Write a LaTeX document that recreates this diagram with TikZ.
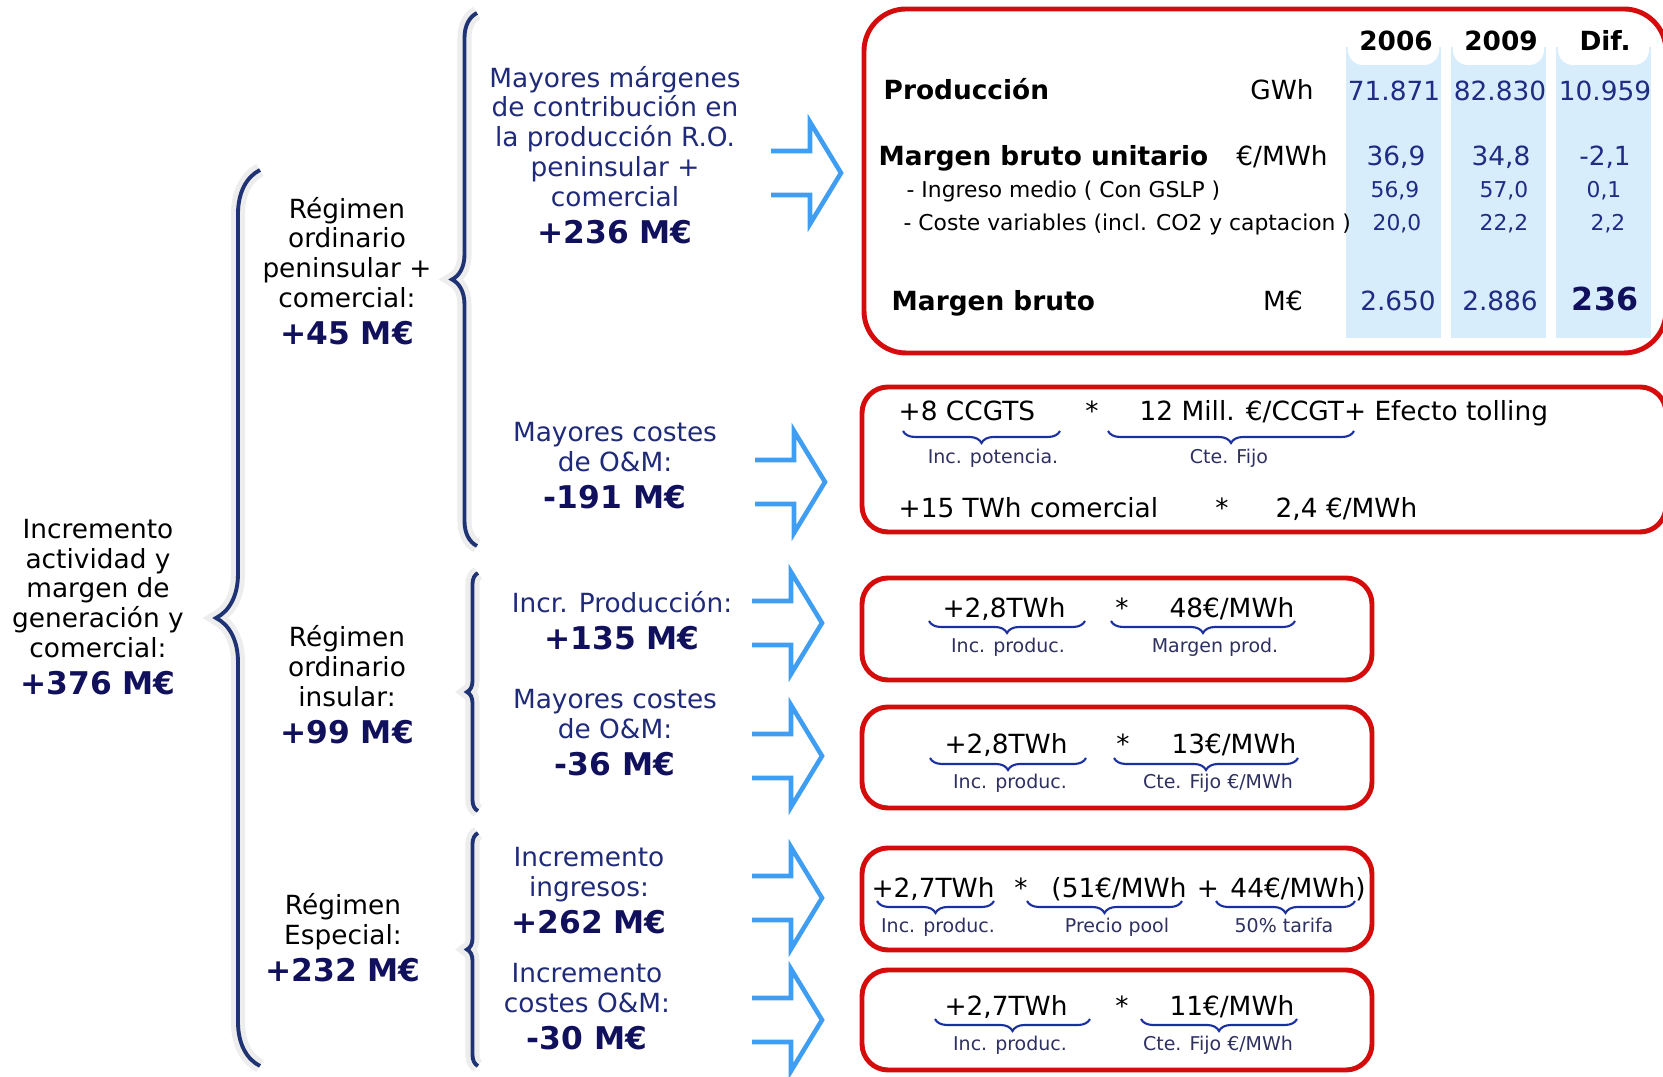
\documentclass[tikz,border=0pt]{standalone}
\usepackage{fontspec}
\setmainfont{DejaVu Sans}
\usetikzlibrary{decorations.pathreplacing, positioning}

\definecolor{navytxt}{HTML}{1F2A78}
\definecolor{navyval}{HTML}{10105C}
\definecolor{tabnum}{HTML}{1E2C84}
\definecolor{labtxt}{HTML}{2E3060}
\definecolor{bracecol}{HTML}{1F3374}
\definecolor{smallbr}{HTML}{1A30A0}
\definecolor{arrowblue}{HTML}{3F9EF2}
\definecolor{boxred}{HTML}{D40C0C}
\definecolor{colblue}{HTML}{D8EDFB}

\newcommand\txtsize{\fontsize{7.5}{8.5}\selectfont}
\newcommand\rowsize{\fontsize{6.2}{7}\selectfont}
\newcommand\labsize{\fontsize{5.4}{6}\selectfont}
\newcommand\mvalue[1]{{\fontsize{8.9}{9.7}\selectfont\bfseries\color{navyval}#1}}

\begin{document}
\begin{tikzpicture}[x=0.01cm, y=-0.01cm,
    every node/.style={inner sep=0pt},
    lvltext/.style={align=center, font=\txtsize, text=black},
    lvlblue/.style={align=center, font=\txtsize, text=navytxt},
    tabrow/.style={font=\txtsize, text=black, anchor=base west},
    tabunit/.style={font=\txtsize, text=black, anchor=base},
    tabnum/.style={font=\txtsize, text=tabnum, anchor=base},
    subrow/.style={font=\rowsize, text=black, anchor=base west},
    subnum/.style={font=\rowsize, text=tabnum, anchor=base},
    formula/.style={font=\txtsize, text=black, anchor=base},
    brlabel/.style={font=\labsize, text=labtxt, anchor=base},
    redbox/.style={draw=boxred, line width=1.4pt, rounded corners=0.26cm},
    openarrow/.style={draw=arrowblue, line width=1.3pt},
    bigbrace/.style={draw=bracecol, line width=1.1pt, decorate},
    brshadow/.style={draw=black, opacity=0.07, line width=4pt, decorate, xshift=-0.05cm},
    smallbrace/.style={draw=smallbr, line width=0.6pt, decorate,
        decoration={brace, amplitude=0.12cm}}]
\useasboundingbox (0,0) rectangle (1663,1077);
\clip (0,0) rectangle (1663,1077);

% braces
\coordinate (tb) at (260,1066);
\coordinate (tt) at (260,170);
\coordinate (pb) at (477,546);
\coordinate (pt) at (477,13);
\coordinate (ib) at (478,811);
\coordinate (it) at (478,573);
\coordinate (eb) at (478,1066);
\coordinate (et) at (478,833);
\draw[brshadow, decoration={brace, amplitude=0.44cm}] (tb) -- (tt);
\draw[brshadow, decoration={brace, amplitude=0.25cm}] (pb) -- (pt);
\draw[brshadow, decoration={brace, amplitude=0.11cm}] (ib) -- (it);
\draw[brshadow, decoration={brace, amplitude=0.11cm}] (eb) -- (et);
\draw[bigbrace, decoration={brace, amplitude=0.44cm}] (tb) -- (tt);
\draw[bigbrace, decoration={brace, amplitude=0.25cm}] (pb) -- (pt);
\draw[bigbrace, decoration={brace, amplitude=0.11cm}] (ib) -- (it);
\draw[bigbrace, decoration={brace, amplitude=0.11cm}] (eb) -- (et);

% left and middle texts
\node[lvltext] (total) at (98,607)
    {Incremento\\actividad y\\margen de\\generación y\\comercial:\\[2pt]\mvalue{+376 M€}};
\node[lvltext] (peni) at (347,271)
    {Régimen\\ordinario\\peninsular +\\comercial:\\[2pt]\mvalue{+45 M€}};
\node[lvltext] (insu) at (347,685)
    {Régimen\\ordinario\\insular:\\[2pt]\mvalue{+99 M€}};
\node[lvltext] (espe) at (343,938)
    {Régimen\\Especial:\\[2pt]\mvalue{+232 M€}};

\node[lvlblue] (marg) at (615,155)
    {Mayores márgenes\\de contribución en\\la producción R.O.\\peninsular +\\comercial\\[2pt]\mvalue{+236 M€}};
\node[lvlblue] (cpen) at (615,466) {Mayores costes\\de O\&M:\\[2pt]\mvalue{-191 M€}};
\node[lvlblue] (iprod) at (622,621) {Incr. Producción:\\[2pt]\mvalue{+135 M€}};
\node[lvlblue] (cins) at (615,733) {Mayores costes\\de O\&M:\\[2pt]\mvalue{-36 M€}};
\node[lvlblue] (ingr) at (589,891) {Incremento\\ingresos:\\[2pt]\mvalue{+262 M€}};
\node[lvlblue] (cesp) at (587,1007) {Incremento\\costes O\&M:\\[2pt]\mvalue{-30 M€}};

% arrows
\foreach \tx/\ty in {841/173, 825/482, 822/623, 822/756, 822/898, 822/1020}
    \draw[openarrow] (\tx-70,\ty-22) -- (\tx-31,\ty-22) -- (\tx-31,\ty-51)
        -- (\tx,\ty) -- (\tx-31,\ty+51) -- (\tx-31,\ty+22) -- (\tx-70,\ty+22);

% table
\foreach \cl/\cr in {1346/1441, 1451/1546, 1556/1651} {
    \fill[colblue] (\cl,47) rectangle (\cr,338);
    \fill[white, rounded corners=0.15cm] (\cl+2,25) rectangle (\cr-2,65);
}
\draw[redbox, rounded corners=0.42cm] (864,9) rectangle (1666,353);
\node[font=\txtsize\bfseries, anchor=base] (y06) at (1396,51) {2006};
\node[font=\txtsize\bfseries, anchor=base] (y09) at (1501,51) {2009};
\node[font=\txtsize\bfseries, anchor=base] (ydif) at (1605,51) {Dif.};

\node[tabrow] (prod) at (883,100) {\bfseries Producción};
\node[tabunit] (uprod) at (1282,100) {GWh};
\node[tabnum] (prod06) at (1394,101) {71.871};
\node[tabnum] (prod09) at (1500,101) {82.830};
\node[tabnum] (proddif) at (1605,101) {10.959};

\node[tabrow] (mbu) at (878,166) {\bfseries Margen bruto unitario};
\node[tabunit] (umbu) at (1282,166) {€/MWh};
\node[tabnum] (mbu06) at (1396,166) {36,9};
\node[tabnum] (mbu09) at (1501,166) {34,8};
\node[tabnum] (mbudif) at (1605,166) {-2,1};

\node[subrow] (ingm) at (906,198) {- Ingreso medio ( Con GSLP )};
\node[subnum] (ingm06) at (1395,198) {56,9};
\node[subnum] (ingm09) at (1504,198) {57,0};
\node[subnum] (ingmdif) at (1604,198) {0,1};

\node[subrow] (cvar) at (903,231) {- Coste variables (incl. CO2 y captacion )};
\node[subnum] (cvar06) at (1397,231) {20,0};
\node[subnum] (cvar09) at (1504,231) {22,2};
\node[subnum] (cvardif) at (1608,231) {2,2};

\node[tabrow] (mb) at (891,311) {\bfseries Margen bruto};
\node[tabunit] (umb) at (1283,311) {M€};
\node[tabnum] (mb06) at (1398,311) {2.650};
\node[tabnum] (mb09) at (1500,311) {2.886};
\node[anchor=base, font=\fontsize{9}{10}\selectfont\bfseries, text=navyval] (mbdif) at (1605,311) {236};

% box O&M peninsular
\draw[redbox] (862,387) rectangle (1666,532);
\node[formula, anchor=base west] (ccgt) at (898,421) {+8 CCGTS};
\node[formula] (st1) at (1092,421) {*};
\node[formula, anchor=base west] (fijo) at (1139,421) {12 Mill. €/CCGT+ Efecto tolling};
\draw[smallbrace] (1060,431) -- (903,431);
\draw[smallbrace] (1354,431) -- (1108,431);
\node[brlabel] (lpot) at (993,464) {Inc. potencia.};
\node[brlabel] (lfijo) at (1229,464) {Cte. Fijo};
\node[formula, anchor=base west] (com) at (898,518) {+15 TWh comercial};
\node[formula] (st2) at (1222,518) {*};
\node[formula, anchor=base west] (comv) at (1275,518) {2,4 €/MWh};

% box produccion insular
\draw[redbox] (862,578) rectangle (1372,680);
\node[formula] (tw1) at (1004,618) {+2,8TWh};
\node[formula] (st3) at (1122,618) {*};
\node[formula, anchor=base east] (mw1) at (1295,618) {48€/MWh};
\draw[smallbrace] (1085,621) -- (929,621);
\draw[smallbrace] (1295,621) -- (1111,621);
\node[brlabel] (l1a) at (1008,653) {Inc. produc.};
\node[brlabel] (l1b) at (1215,653) {Margen prod.};

% box costes insular
\draw[redbox] (862,707) rectangle (1372,808);
\node[formula] (tw2) at (1006,754) {+2,8TWh};
\node[formula] (st4) at (1123,754) {*};
\node[formula, anchor=base east] (mw2) at (1297,754) {13€/MWh};
\draw[smallbrace] (1086,758) -- (930,758);
\draw[smallbrace] (1298,758) -- (1114,758);
\node[brlabel] (l2a) at (1010,789) {Inc. produc.};
\node[brlabel] (l2b) at (1218,789) {Cte. Fijo €/MWh};

% box ingresos especial
\draw[redbox] (862,848) rectangle (1372,950);
\node[formula] (tw3) at (933,898) {+2,7TWh};
\node[formula] (st5) at (1021,898) {*};
\node[formula] (mw3) at (1119,898) {(51€/MWh};
\node[formula] (pl5) at (1208,898) {+};
\node[formula] (mw4) at (1298,898) {44€/MWh)};
\draw[smallbrace] (994,901) -- (877,901);
\draw[smallbrace] (1182,901) -- (1027,901);
\draw[smallbrace] (1355,901) -- (1216,901);
\node[brlabel] (l3a) at (938,933) {Inc. produc.};
\node[brlabel] (l3b) at (1117,933) {Precio pool};
\node[brlabel] (l3c) at (1284,933) {50\% tarifa};

% box costes especial
\draw[redbox] (862,970) rectangle (1372,1070);
\node[formula] (tw4) at (1006,1016) {+2,7TWh};
\node[formula] (st6) at (1122,1016) {*};
\node[formula, anchor=base east] (mw5) at (1295,1016) {11€/MWh};
\draw[smallbrace] (1090,1019) -- (935,1019);
\draw[smallbrace] (1297,1019) -- (1141,1019);
\node[brlabel] (l4a) at (1010,1051) {Inc. produc.};
\node[brlabel] (l4b) at (1218,1051) {Cte. Fijo €/MWh};
\end{tikzpicture}
\end{document}
